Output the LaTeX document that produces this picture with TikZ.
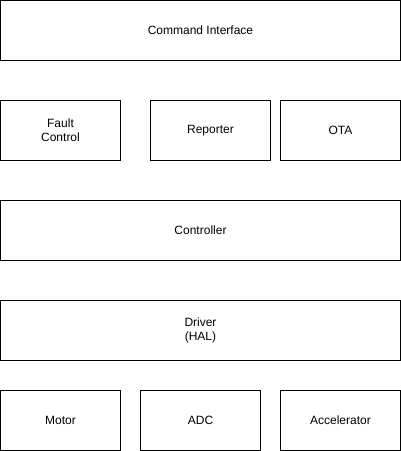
\documentclass[tikz,border=0pt]{standalone}
\usepackage{fontspec}
\setmainfont{Liberation Sans}
\begin{document}
\begin{tikzpicture}[x=1pt,y=-1pt,
  box/.style={draw=black, line width=1pt, fill=white, font=\fontsize{12}{14}\selectfont, align=center, inner sep=0pt}]
\useasboundingbox (0,0) rectangle (401,451);
\fill[white] (0,0) rectangle (401,451);
\node[box, minimum width=400, minimum height=60] (cmd) at (200.5,30.5) {Command Interface};
\node[box, minimum width=120, minimum height=60] (fault) at (60.5,130.5) {Fault\\Control};
\node[box, minimum width=120, minimum height=60] (rep) at (210.5,130.5) {Reporter};
\node[box, minimum width=120, minimum height=60] (ota) at (340.5,130.5) {OTA};
\node[box, minimum width=400, minimum height=60] (ctrl) at (200.5,230.5) {Controller};
\node[box, minimum width=400, minimum height=60] (drv) at (200.5,330.5) {Driver\\(HAL)};
\node[box, minimum width=120, minimum height=60] (motor) at (60.5,420.5) {Motor};
\node[box, minimum width=120, minimum height=60] (adc) at (200.5,420.5) {ADC};
\node[box, minimum width=120, minimum height=60] (acc) at (340.5,420.5) {Accelerator};
\end{tikzpicture}
\end{document}
